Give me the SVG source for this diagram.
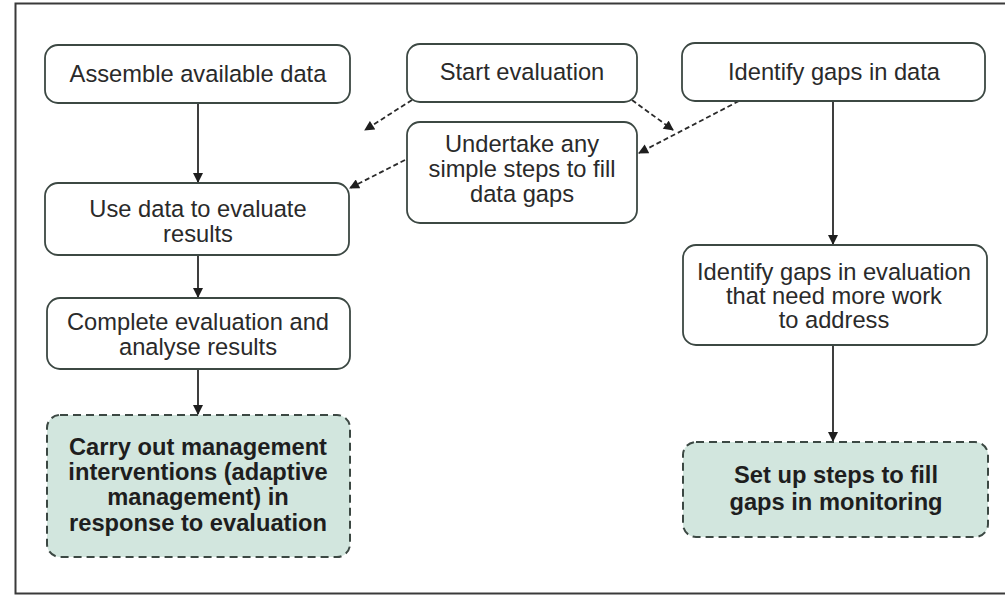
<svg xmlns="http://www.w3.org/2000/svg" width="1005" height="599" viewBox="0 0 1005 599">
<style>
.box{fill:#ffffff;stroke:#3c4843;stroke-width:1.8}
.hl{fill:#d2e6de;stroke:#3c4843;stroke-width:2;stroke-dasharray:8 5}
.t{font-family:"Liberation Sans",Arial,sans-serif;font-size:23.7px;fill:#2a2a2a;text-anchor:middle}
.b{font-weight:bold;fill:#1e1e1e}
.c{stroke:#2a2a2a;stroke-width:1.8;fill:none}
.d{stroke-dasharray:5 3}
</style>
<defs>
<marker id="ah" viewBox="0 0 10 10" refX="9" refY="5" markerWidth="11" markerHeight="10" markerUnits="userSpaceOnUse" orient="auto">
<path d="M0,0 L10,5 L0,10 z" fill="#1e1e1e"/>
</marker>
</defs>
<rect x="0" y="0" width="1005" height="599" fill="#ffffff"/>
<rect x="15.5" y="3.5" width="1000" height="590" fill="none" stroke="#3a3a3a" stroke-width="2"/>
<g id="connectors">
<line class="c" x1="198" y1="103" x2="198" y2="182" marker-end="url(#ah)"/>
<line class="c" x1="198" y1="255" x2="198" y2="297" marker-end="url(#ah)"/>
<line class="c" x1="198" y1="369" x2="198" y2="414" marker-end="url(#ah)"/>
<line class="c d" x1="412" y1="100" x2="365" y2="130" marker-end="url(#ah)"/>
<line class="c d" x1="405" y1="160" x2="350" y2="188" marker-end="url(#ah)"/>
<line class="c d" x1="632" y1="100" x2="673" y2="130" marker-end="url(#ah)"/>
<line class="c d" x1="739" y1="101" x2="639" y2="153" marker-end="url(#ah)"/>
<line class="c" x1="833" y1="101" x2="833" y2="244" marker-end="url(#ah)"/>
<line class="c" x1="833" y1="345" x2="833" y2="441" marker-end="url(#ah)"/>
</g>
<g id="n-assemble">
<rect class="box" x="45" y="45" width="305" height="58" rx="13"/>
<text class="t" x="198" y="82">Assemble available data</text>
</g>
<g id="n-start">
<rect class="box" x="407" y="44" width="230" height="58" rx="13"/>
<text class="t" x="522" y="80">Start evaluation</text>
</g>
<g id="n-identify-data">
<rect class="box" x="682" y="43" width="303" height="58" rx="13"/>
<text class="t" x="834" y="80">Identify gaps in data</text>
</g>
<g id="n-undertake">
<rect class="box" x="407" y="122" width="230" height="101" rx="13"/>
<text class="t" x="522" y="152">Undertake any</text>
<text class="t" x="522" y="177">simple steps to fill</text>
<text class="t" x="522" y="202">data gaps</text>
</g>
<g id="n-use">
<rect class="box" x="45" y="183" width="304" height="72" rx="13"/>
<text class="t" x="198" y="217">Use data to evaluate</text>
<text class="t" x="198" y="242">results</text>
</g>
<g id="n-complete">
<rect class="box" x="47" y="298" width="303" height="71" rx="13"/>
<text class="t" x="198" y="330">Complete evaluation and</text>
<text class="t" x="198" y="355">analyse results</text>
</g>
<g id="n-carry">
<rect class="hl" x="47" y="415" width="303" height="142" rx="13"/>
<text class="t b" x="198" y="455">Carry out management</text>
<text class="t b" x="198" y="480">interventions (adaptive</text>
<text class="t b" x="198" y="505">management) in</text>
<text class="t b" x="198" y="531">response to evaluation</text>
</g>
<g id="n-identify-eval">
<rect class="box" x="683" y="245" width="304" height="100" rx="13"/>
<text class="t" x="834" y="280">Identify gaps in evaluation</text>
<text class="t" x="834" y="304">that need more work</text>
<text class="t" x="834" y="328">to address</text>
</g>
<g id="n-setup">
<rect class="hl" x="683" y="442" width="305" height="95" rx="13"/>
<text class="t b" x="836" y="483">Set up steps to fill</text>
<text class="t b" x="836" y="510">gaps in monitoring</text>
</g>
</svg>
